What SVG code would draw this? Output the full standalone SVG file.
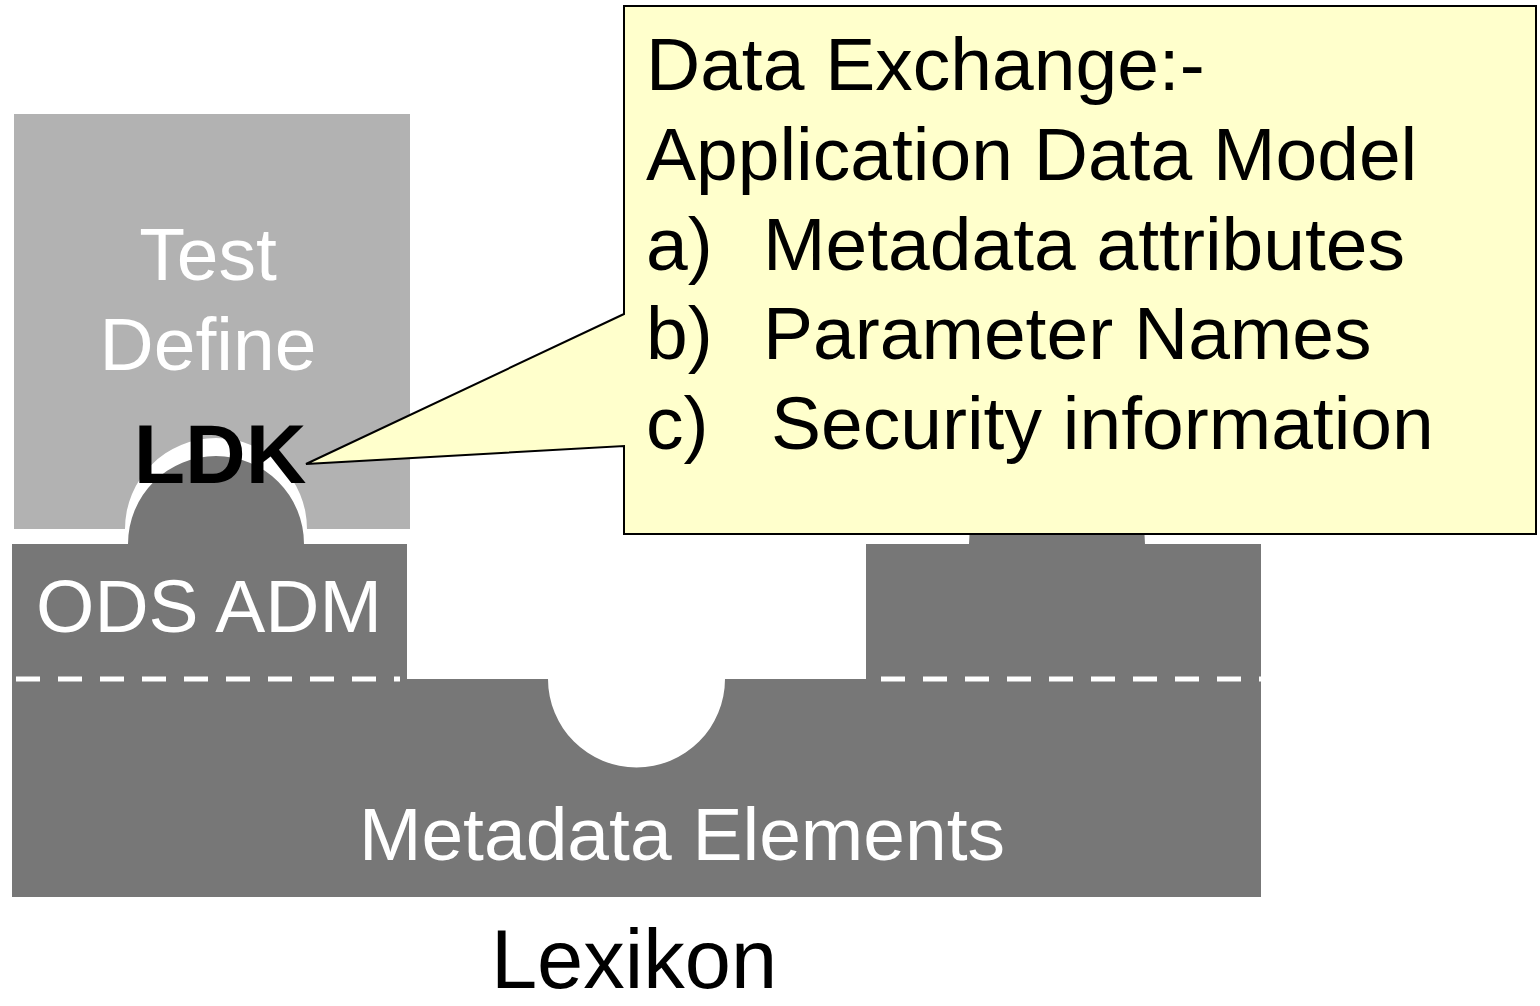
<svg xmlns="http://www.w3.org/2000/svg" width="1540" height="1006" viewBox="0 0 1540 1006">
  <style>
    .lbl { font-family: "Liberation Sans", Arial, sans-serif; font-size: 75px; }
    .white { fill: #ffffff; }
    .black { fill: #000000; }
    .dash { stroke: #ffffff; stroke-width: 5; stroke-dasharray: 24 18; fill: none; }
  </style>
  <rect width="1540" height="1006" fill="#ffffff"/>

  <!-- Test Define block with a round notch for the LDK plug -->
  <g id="test-define">
    <path d="M14,114 H410 V529 H307 A91,91 0 0 0 125,529 H14 Z" fill="#b2b2b2"/>
    <text class="lbl white" x="208" y="280" text-anchor="middle">Test</text>
    <text class="lbl white" x="208" y="370" text-anchor="middle">Define</text>
  </g>

  <!-- Lexikon base: ODS ADM column, right column and Metadata Elements layer -->
  <g id="lexikon-base">
    <path d="M12,544 H128 A88,88 0 0 1 304,544 H407 V679 H548 A88.5,88.5 0 0 0 725,679 H866 V544 H969 A88,88 0 0 1 1145,544 H1261 V897 H12 Z" fill="#777777"/>
    <line class="dash" x1="16" y1="679" x2="400" y2="679"/>
    <line class="dash" x1="881" y1="679" x2="1261" y2="679"/>
  </g>

  <g id="ods-adm">
    <text class="lbl white" x="209" y="632" text-anchor="middle">ODS ADM</text>
  </g>

  <g id="metadata-elements">
    <text class="lbl white" x="682" y="860" text-anchor="middle">Metadata Elements</text>
  </g>

  <g id="lexikon-label">
    <text class="lbl black" x="634" y="988" text-anchor="middle" style="font-size:83px">Lexikon</text>
  </g>

  <!-- Callout pointing at LDK -->
  <g id="callout">
    <path d="M624,6 H1536 V534 H624 V446 L306,464 L624,314 Z" fill="#ffffcc" stroke="#000000" stroke-width="2" stroke-linejoin="miter"/>
    <text class="lbl black" x="646" y="90">Data Exchange:-</text>
    <text class="lbl black" x="646" y="180">Application Data Model</text>
    <text class="lbl black" y="270"><tspan x="646">a)</tspan><tspan x="763">Metadata attributes</tspan></text>
    <text class="lbl black" y="359"><tspan x="646">b)</tspan><tspan x="763">Parameter Names</tspan></text>
    <text class="lbl black" y="449"><tspan x="646">c)</tspan><tspan x="771">Security information</tspan></text>
  </g>

  <g id="ldk">
    <text class="lbl black" x="220" y="483" text-anchor="middle" style="font-weight:bold;font-size:84px">LDK</text>
  </g>
</svg>
